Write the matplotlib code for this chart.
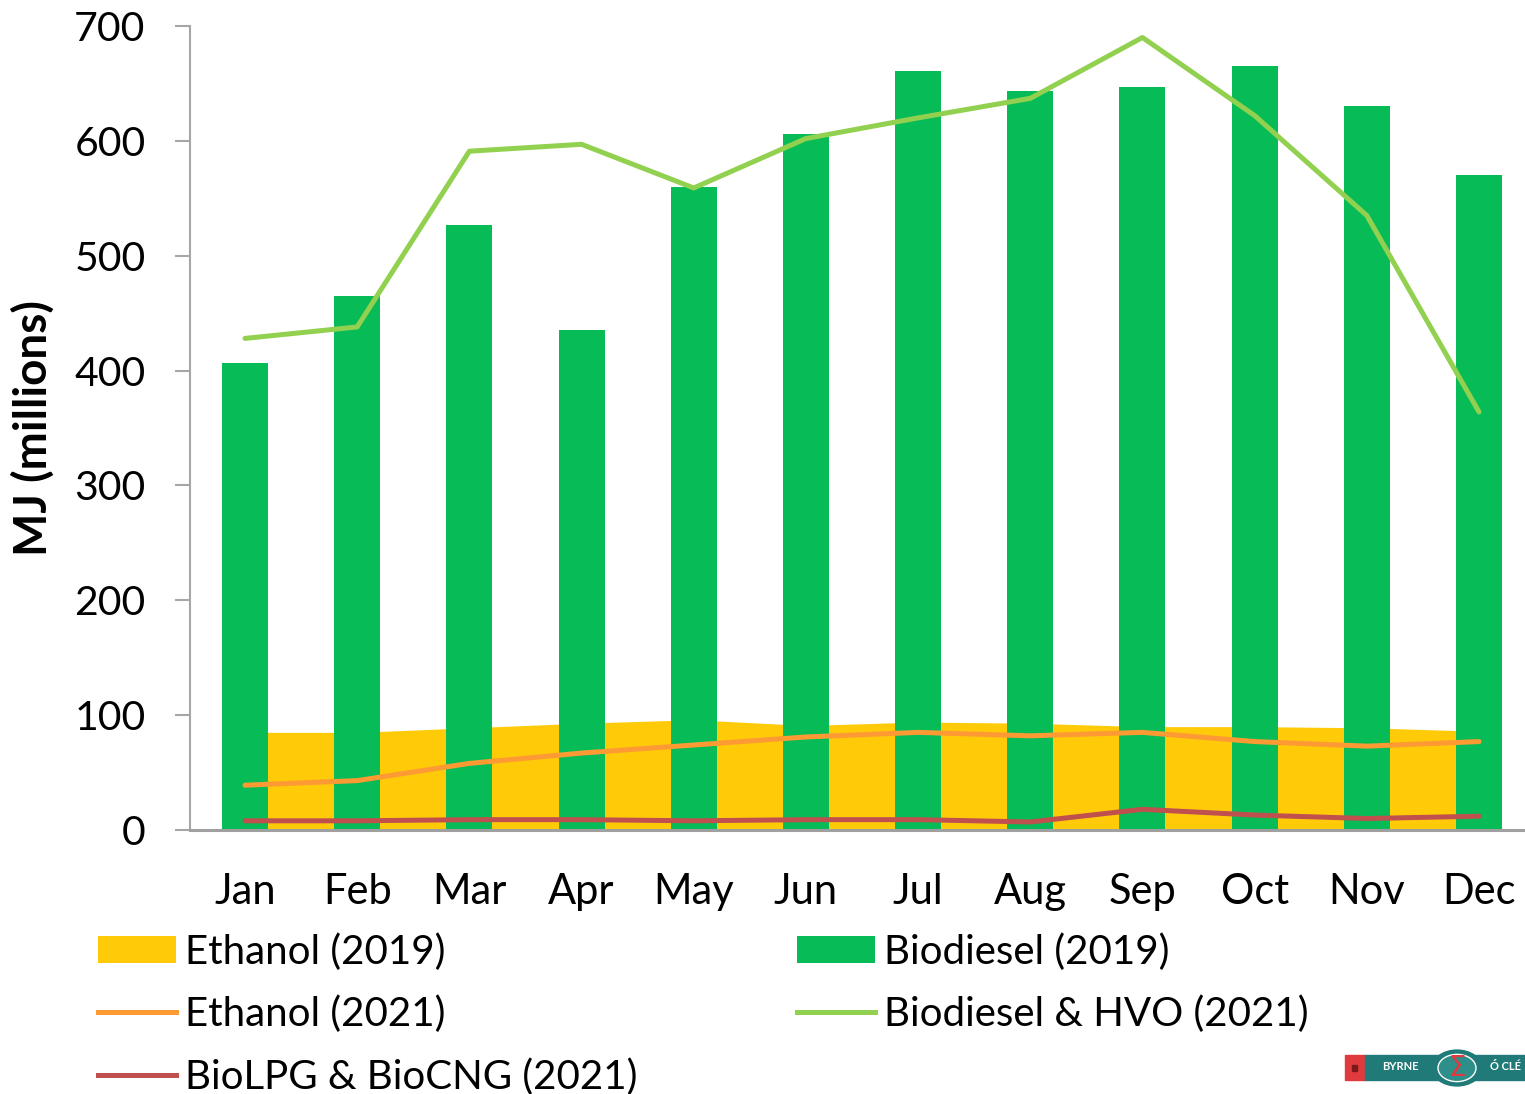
import matplotlib
matplotlib.use("Agg")
import matplotlib.pyplot as plt
from matplotlib.patches import Rectangle, Circle, Patch
from matplotlib.lines import Line2D

months = ["Jan", "Feb", "Mar", "Apr", "May", "Jun", "Jul", "Aug", "Sep", "Oct", "Nov", "Dec"]
biodiesel_2019 = [407, 465, 527, 435, 560, 606, 661, 643, 647, 665, 630, 570]
ethanol_2019 = [85, 85, 89, 93, 96, 91, 94, 93, 90, 90, 89, 86]
biodiesel_hvo_2021 = [428, 438, 591, 597, 559, 602, 620, 637, 690, 622, 535, 364]
ethanol_2021 = [39, 43, 58, 67, 74, 81, 85, 82, 85, 77, 73, 77]
biolpg_cng_2021 = [8, 8, 9, 9, 8, 9, 9, 7, 18, 13, 10, 12]
y_ticks = [0, 100, 200, 300, 400, 500, 600, 700]

FONT = ["Lato", "DejaVu Sans"]
plt.rcParams["font.family"] = FONT

W, H = 1525, 1094
fig = plt.figure(figsize=(W / 100, H / 100), dpi=100)
ax = fig.add_axes([190 / W, 1 - 830 / H, (W - 190) / W, (830 - 26) / H])

x = list(range(len(months)))
c_bio = "#07BB56"
c_eth = "#FFCB08"
c_eth21 = "#FD9A34"
c_hvo = "#92D050"
c_lpg = "#C0504D"

ax.fill_between(x, 0, ethanol_2019, color=c_eth, lw=0, zorder=1)
ax.bar(x, biodiesel_2019, width=0.41, color=c_bio, zorder=2)
ax.plot(x, ethanol_2021, color=c_eth21, lw=3.6, zorder=3, solid_capstyle="round")
ax.plot(x, biodiesel_hvo_2021, color=c_hvo, lw=3.6, zorder=3, solid_capstyle="round")
ax.plot(x, biolpg_cng_2021, color=c_lpg, lw=3.6, zorder=3, solid_capstyle="round")

ax.set_xlim(-(245 - 190) / 112.2, 11 + (W - 1479) / 112.2)
ax.set_ylim(0, 700)
ax.set_yticks(y_ticks)
ax.set_xticks(x)
ax.set_xticklabels(months)

for s in ["top", "right"]:
    ax.spines[s].set_visible(False)
ax.spines["left"].set_color("#A6A6A6")
ax.spines["left"].set_linewidth(1.5)
ax.spines["bottom"].set_color("#A0A0A0")
ax.spines["bottom"].set_linewidth(2.2)

ax.tick_params(axis="y", direction="out", length=11, width=1.5, color="#A6A6A6",
               labelsize=29.5, pad=21)
ax.tick_params(axis="x", length=0, labelsize=30, pad=31)
ax.set_ylabel("MJ (millions)", fontsize=33, fontweight="bold")
ax.yaxis.set_label_coords(-(190 - 55) / (W - 190), 0.5)

lw = 3.6
h_eth19 = Patch(facecolor=c_eth, edgecolor="none")
h_eth21 = Line2D([], [], color=c_eth21, lw=lw)
h_lpg = Line2D([], [], color=c_lpg, lw=lw)
h_bio19 = Patch(facecolor=c_bio, edgecolor="none")
h_hvo = Line2D([], [], color=c_hvo, lw=lw)

common = dict(frameon=False, fontsize=29, borderpad=0, borderaxespad=0,
              handlelength=1.93, handleheight=0.65, handletextpad=0.22,
              labelspacing=0.62, loc="upper left")
leg1 = fig.legend([h_eth19, h_eth21, h_lpg],
                  ["Ethanol (2019)", "Ethanol (2021)", "BioLPG & BioCNG (2021)"],
                  bbox_to_anchor=(98 / W, 1 - 933 / H), **common)
leg2 = fig.legend([h_bio19, h_hvo],
                  ["Biodiesel (2019)", "Biodiesel & HVO (2021)"],
                  bbox_to_anchor=(797 / W, 1 - 933 / H), **common)

# small logo, bottom right
def fx(px):
    return px / W

def fy(py):
    return 1 - py / H

teal = "#1F7A78"
fig.add_artist(Rectangle((fx(1345), fy(1080)), fx(20), 25 / H, color="#E03A3E"))
fig.add_artist(Rectangle((fx(1352), fy(1071)), fx(5), 6 / H, color="#7A1A1A"))
fig.add_artist(Rectangle((fx(1365), fy(1080)), fx(160), 25 / H, color=teal))
fig.text(fx(1400), fy(1067), "BYRNE", color="white", fontsize=8, fontweight="bold",
         ha="center", va="center", family=FONT)
fig.text(fx(1505), fy(1067), "Ó CLÉ", color="white", fontsize=8, fontweight="bold",
         ha="center", va="center", family=FONT)
fig.add_artist(Circle((fx(1457), fy(1068)), 25 / W, color=teal, transform=fig.transFigure))
fig.add_artist(Circle((fx(1457), fy(1068)), 19 / W, facecolor="#2E8F8A", edgecolor="white",
                      lw=1, transform=fig.transFigure))
fig.text(fx(1457), fy(1068), "Σ", color="#E03A3E", fontsize=20, ha="center", va="center",
         family=["DejaVu Sans"])

fig.savefig("out.png", dpi=100)
